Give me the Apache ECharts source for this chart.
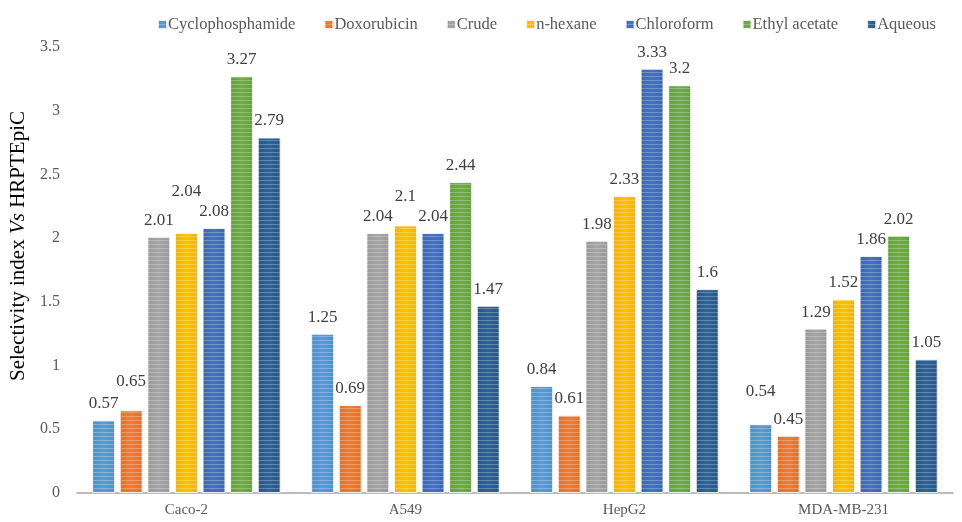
<!DOCTYPE html>
<html>
<head>
<meta charset="utf-8">
<script src="https://cdn.jsdelivr.net/npm/echarts@6/dist/echarts.min.js"></script>
<style>html,body{margin:0;padding:0;background:#fff}#c{width:962px;height:522px}</style>
</head>
<body>
<div id="c"></div>
<script>
const categories = ['Caco-2', 'A549', 'HepG2', 'MDA-MB-231'];
const seriesNames = ['Cyclophosphamide', 'Doxorubicin', 'Crude', 'n-hexane', 'Chloroform', 'Ethyl acetate', 'Aqueous'];
const cyclophosphamide = [0.57, 1.25, 0.84, 0.54];
const doxorubicin = [0.65, 0.69, 0.61, 0.45];
const crude = [2.01, 2.04, 1.98, 1.29];
const nHexane = [2.04, 2.1, 2.33, 1.52];
const chloroform = [2.08, 2.04, 3.33, 1.86];
const ethylAcetate = [3.27, 2.44, 3.2, 2.02];
const aqueous = [2.79, 1.47, 1.6, 1.05];
const yTicks = [0, 0.5, 1, 1.5, 2, 2.5, 3, 3.5];

const values = [cyclophosphamide, doxorubicin, crude, nHexane, chloroform, ethylAcetate, aqueous];
const colors = ['#5B9BD5', '#ED7D31', '#A5A5A5', '#FFC000', '#4472C4', '#70AD47', '#2F6396'];
const edges = ['#5090CA', '#E07228', '#999999', '#F0B400', '#3C66B6', '#64A03E', '#285787'];

// extra lift (px) for value labels that would otherwise collide with a neighbour
const labelLift = {
  'Doxorubicin': [12, 0, 0, 0],
  'n-hexane': [25, 12, 0, 0],
  'Cyclophosphamide': [0, 0, 0, 16]
};

const font = '"Liberation Serif", "Times New Roman", serif';
const chart = echarts.init(document.getElementById('c'));

chart.setOption({
  animation: false,
  textStyle: { fontFamily: font },
  legend: {
    top: 11,
    left: 152,
    itemWidth: 9,
    itemHeight: 9,
    itemGap: 28,
    icon: 'rect',
    textStyle: { fontFamily: font, fontSize: 16.5, color: '#595959', padding: [0, 0, 0, -4] },
    data: seriesNames
  },
  grid: { left: 73, right: 9, top: 47, bottom: 29 },
  xAxis: {
    type: 'category',
    data: categories,
    axisLine: { lineStyle: { color: '#A6A6A6', width: 1.5 } },
    axisTick: { show: false },
    axisLabel: { fontFamily: font, fontSize: 15, color: '#595959', margin: 10 }
  },
  yAxis: {
    type: 'value',
    min: yTicks[0],
    max: yTicks[yTicks.length - 1],
    interval: 0.5,
    splitLine: { show: false },
    axisLine: { show: false },
    axisTick: { show: false },
    axisLabel: { fontFamily: font, fontSize: 16, color: '#595959', margin: 17 },
    name: '{a|Selectivity index }{b|Vs}{a| HRPTEpiC}',
    nameLocation: 'middle',
    nameRotate: 90,
    nameGap: 46,
    nameTextStyle: {
      padding: [0, 0, 0, 48],
      rich: {
        a: { fontFamily: font, fontSize: 21, color: '#000' },
        b: { fontFamily: font, fontSize: 21, color: '#000', fontStyle: 'italic' }
      }
    }
  },
  series: seriesNames.map((name, i) => ({
    name,
    type: 'bar',
    data: values[i].map((v, j) => {
      const lift = (labelLift[name] || [])[j] || 0;
      return lift ? { value: v, label: { distance: 8 + lift } } : v;
    }),
    barWidth: 23,
    barGap: '20%',
    itemStyle: {
      color: {
        type: 'linear', x: 0, y: 0, x2: 1, y2: 0,
        colorStops: [
          { offset: 0, color: edges[i] },
          { offset: 0.5, color: colors[i] },
          { offset: 1, color: edges[i] }
        ]
      },
      borderColor: 'rgba(255,255,255,0.55)',
      borderWidth: 1,
      decal: {
        symbol: 'rect',
        dashArrayX: [1, 0],
        dashArrayY: [1, 3],
        color: 'rgba(255,255,255,0.25)'
      }
    },
    label: {
      show: true,
      position: 'top',
      distance: 8,
      fontFamily: font,
      fontSize: 17,
      color: '#404040'
    }
  }))
});
</script>
</body>
</html>
